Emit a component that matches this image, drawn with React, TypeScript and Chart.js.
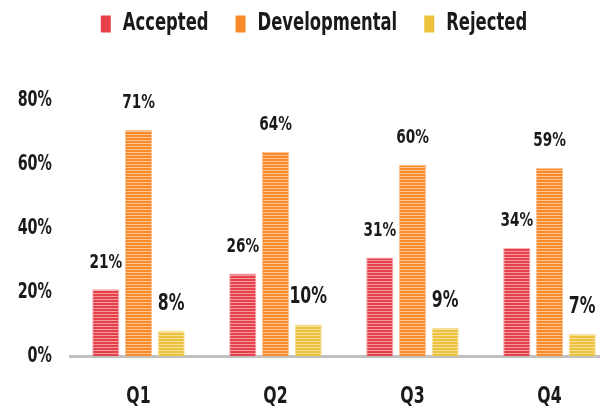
import React, { useEffect, useRef } from "react";
import { Chart, registerables } from "chart.js";

Chart.register(...registerables);

const categories = ["Q1", "Q2", "Q3", "Q4"];
const seriesNames = ["Accepted", "Developmental", "Rejected"];
const accepted = [21, 26, 31, 34];
const developmental = [71, 64, 60, 59];
const rejected = [8, 10, 9, 7];
const yTicks = [0, 20, 40, 60, 80];

const FONT = "'DejaVu Sans Condensed', 'DejaVu Sans', sans-serif";
const SX = 0.76;

function stripe(base: string, light: string): CanvasPattern | string {
  const c = document.createElement("canvas");
  c.width = 4;
  c.height = 3;
  const ctx = c.getContext("2d");
  if (!ctx) return base;
  ctx.fillStyle = base;
  ctx.fillRect(0, 0, 4, 2);
  ctx.fillStyle = light;
  ctx.fillRect(0, 2, 4, 1);
  return ctx.createPattern(c, "repeat") || base;
}

function condense(ctx: any) {
  if (ctx.__condensed) return;
  ctx.__condensed = true;
  const of = ctx.fillText.bind(ctx);
  const om = ctx.measureText.bind(ctx);
  ctx.fillText = (t: string, x: number, y: number) => {
    ctx.save();
    ctx.translate(x, y);
    ctx.scale(SX, 1);
    of(t, 0, 0);
    ctx.restore();
  };
  ctx.measureText = (t: string) => {
    const m = om(t);
    return {
      width: m.width * SX,
      actualBoundingBoxAscent: m.actualBoundingBoxAscent,
      actualBoundingBoxDescent: m.actualBoundingBoxDescent,
      actualBoundingBoxLeft: m.actualBoundingBoxLeft * SX,
      actualBoundingBoxRight: m.actualBoundingBoxRight * SX,
      fontBoundingBoxAscent: m.fontBoundingBoxAscent,
      fontBoundingBoxDescent: m.fontBoundingBoxDescent,
    };
  };
}

const labelPlugin = {
  id: "barLabels",
  afterDatasetsDraw(chart: any) {
    const ctx = chart.ctx;
    ctx.save();
    ctx.fillStyle = "#1a1a1a";
    ctx.textAlign = "center";
    ctx.textBaseline = "middle";
    chart.data.datasets.forEach((ds: any, di: number) => {
      const meta = chart.getDatasetMeta(di);
      const size = di === 2 ? 23 : 20;
      ctx.font = `bold ${size}px ${FONT}`;
      meta.data.forEach((el: any, i: number) => {
        ctx.fillText(ds.data[i] + "%", el.x, el.y - 27);
      });
    });
    ctx.restore();
  },
};

const legendMargin = {
  id: "legendMargin",
  beforeInit(chart: any) {
    const legend = chart.legend;
    if (!legend) return;
    const orig = legend.fit;
    legend.fit = function () {
      orig.call(this);
      this.height += 55;
    };
  },
};

const colors = ["#e6404b", "#f98a2a", "#ecc23c"];

export default function App() {
  const ref = useRef<HTMLCanvasElement>(null);
  useEffect(() => {
    document.body.style.margin = "0";
    const canvas = ref.current!;
    condense(canvas.getContext("2d"));
    const red = stripe("#e6404b", "#f29aa0");
    const orange = stripe("#f98a2a", "#fcc595");
    const yellow = stripe("#ecc23c", "#f6e09a");
    const chart = new Chart(canvas, {
      type: "bar",
      data: {
        labels: categories,
        datasets: [
          {
            label: seriesNames[0],
            data: accepted,
            backgroundColor: red as any,
            borderColor: "#f4a3a8",
            borderWidth: 1,
          },
          {
            label: seriesNames[1],
            data: developmental,
            backgroundColor: orange as any,
            borderColor: "#fcc493",
            borderWidth: 1,
          },
          {
            label: seriesNames[2],
            data: rejected,
            backgroundColor: yellow as any,
            borderColor: "#f6df98",
            borderWidth: 1,
          },
        ],
      },
      options: {
        responsive: false,
        animation: false,
        layout: { padding: { left: 10, right: 2, top: -15, bottom: 0 } },
        datasets: {
          bar: { categoryPercentage: 0.716, barPercentage: 0.83 },
        },
        plugins: {
          legend: {
            position: "top",
            labels: {
              boxWidth: 10,
              boxHeight: 17,
              padding: 27,
              color: "#1a1a1a",
              font: { family: FONT, size: 24, weight: "bold" },
              generateLabels: (ch: any) =>
                ch.data.datasets.map((ds: any, i: number) => ({
                  text: ds.label,
                  fillStyle: colors[i],
                  strokeStyle: colors[i],
                  lineWidth: 0,
                  hidden: false,
                  datasetIndex: i,
                  fontColor: "#1a1a1a",
                })),
            },
          },
          tooltip: { enabled: false },
        },
        scales: {
          x: {
            grid: { display: false },
            border: { display: true, color: "#c0c0c0", width: 3 },
            ticks: {
              color: "#1a1a1a",
              padding: 19,
              font: { family: FONT, size: 23, weight: "bold" },
            },
          },
          y: {
            min: 0,
            max: 80,
            afterFit: (s: any) => {
              s.width = 60;
            },
            afterBuildTicks: (s: any) => {
              s.ticks = yTicks.map((v) => ({ value: v }));
            },
            grid: { display: false, drawTicks: false },
            border: { display: false },
            ticks: {
              color: "#1a1a1a",
              padding: 18,
              font: { family: FONT, size: 21, weight: "bold" },
              callback: (v: any) => v + "%",
            },
          },
        },
      },
      plugins: [labelPlugin, legendMargin],
    });
    return () => chart.destroy();
  }, []);
  return (
    <div style={{ width: 600, height: 408, overflow: "hidden", position: "relative" }}>
      <canvas ref={ref} width={620} height={430} style={{ display: "block" }} />
    </div>
  );
}
